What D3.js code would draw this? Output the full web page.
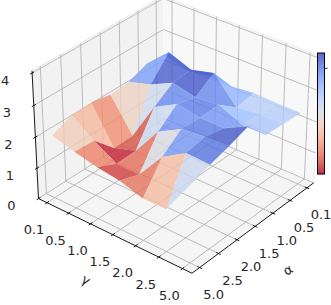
<!DOCTYPE html>
<html>
<head>
<meta charset="utf-8">
<script src="https://d3js.org/d3.v7.min.js"></script>
<style>
  body { margin: 0; background: #fff; }
  svg { display: block; font-family: "DejaVu Sans", sans-serif; }
</style>
</head>
<body>
<svg id="chart" width="331" height="305"></svg>
<script>
// --- DATA ---
const gammaLabels = ["0.1", "0.5", "1.0", "1.5", "2.0", "2.5", "5.0"];
const alphaLabels = ["0.1", "0.5", "1.0", "1.5", "2.0", "2.5", "5.0"];
const zTicks = [0, 1, 2, 3, 4];

// surface height, one array per alpha, values in gamma order
const zAlpha01 = [2.40, 2.20, 2.30, 2.27, 2.35, 2.32, 2.32];
const zAlpha05 = [2.49, 3.14, 2.87, 3.06, 2.26, 2.35, 2.36];
const zAlpha10 = [2.25, 2.46, 2.81, 2.65, 2.72, 2.40, 2.39];
const zAlpha15 = [2.20, 1.17, 2.41, 2.81, 2.69, 2.67, 3.04];
const zAlpha20 = [2.32, 1.16, 1.39, 2.32, 2.72, 2.80, 2.83];
const zAlpha25 = [2.29, 1.79, 1.37, 1.36, 2.24, 2.69, 2.66];
const zAlpha50 = [2.03, 1.83, 1.67, 1.57, 1.35, 1.35, null];
const zRows = [zAlpha01, zAlpha05, zAlpha10, zAlpha15, zAlpha20, zAlpha25, zAlpha50];

const colorExtent = [1.38, 2.88];
const colorBarTick = [2.69];

// --- PROJECTION ---
const elev = 32 * Math.PI / 180;
const azim = 39.2 * Math.PI / 180;
const dist = 8.75;
const zoom = 200;
const cx = 177, cy = 128.5;
const boxH = 0.75;
const edge = 0.4 / 6.8; // gap between the box wall and the first tick

const xScale = d3.scalePoint().domain(d3.range(7)).range([-0.5 + edge, 0.5 - edge]);
const yScale = d3.scalePoint().domain(d3.range(7)).range([-0.5 + edge, 0.5 - edge]);
const zScale = d3.scaleLinear().domain([0, 4.07]).range([-boxH / 2, boxH / 2]);

function depth(x, y, z) {
    const d = x * Math.sin(azim) + y * Math.cos(azim);
    return z * Math.sin(elev) + d * Math.cos(elev);
}

function project(x, y, z) {
    const sx = x * Math.cos(azim) - y * Math.sin(azim);
    const d = x * Math.sin(azim) + y * Math.cos(azim);
    const sy = z * Math.cos(elev) - d * Math.sin(elev);
    const p = dist / (dist - depth(x, y, z));
    return [cx + zoom * sx * p, cy - zoom * sy * p];
}

const svg = d3.select("#chart");
const line3d = d3.line();
const x0 = -0.5, x1 = 0.5, zLo = -boxH / 2, zHi = boxH / 2;

function poly(points, fill) {
    return svg.append("path")
        .attr("d", line3d(points.map(p => project(...p))) + "Z")
        .attr("fill", fill);
}

function seg(a, b, stroke, width) {
    const pa = project(...a), pb = project(...b);
    return svg.append("line")
        .attr("x1", pa[0]).attr("y1", pa[1])
        .attr("x2", pb[0]).attr("y2", pb[1])
        .attr("stroke", stroke).attr("stroke-width", width);
}

// --- PANES ---
poly([[x0, x0, zLo], [x0, x1, zLo], [x0, x1, zHi], [x0, x0, zHi]], "#f2f2f2");
poly([[x0, x0, zLo], [x1, x0, zLo], [x1, x0, zHi], [x0, x0, zHi]], "#f8f8f8");
poly([[x0, x0, zLo], [x1, x0, zLo], [x1, x1, zLo], [x0, x1, zLo]], "#f5f5f5");
seg([x0, x1, zHi], [x0, x0, zHi], "#ebebeb", 1.2);
seg([x0, x0, zHi], [x1, x0, zHi], "#efefef", 1.2);
seg([x1, x0, zHi], [x1, x0, zLo], "#efefef", 1.2);

// --- GRID ---
const gridColor = "#b4b4b4";
d3.range(7).forEach(i => {
    const gx = xScale(i), gy = yScale(i);
    seg([gx, x0, zLo], [gx, x1, zLo], gridColor, 0.9);
    seg([gx, x0, zLo], [gx, x0, zHi], gridColor, 0.9);
    seg([x0, gy, zLo], [x1, gy, zLo], gridColor, 0.9);
    seg([x0, gy, zLo], [x0, gy, zHi], gridColor, 0.9);
});
zTicks.forEach(t => {
    const gz = zScale(t);
    seg([x0, x1, gz], [x0, x0, gz], gridColor, 0.9);
    seg([x0, x0, gz], [x1, x0, gz], gridColor, 0.9);
});

// --- AXES ---
seg([x0, x1, zLo], [x1, x1, zLo], "#000", 0.9);
seg([x1, x1, zLo], [x1, x0, zLo], "#000", 0.9);
seg([x0, x1, zLo], [x0, x1, zHi], "#000", 0.9);

function label(pos, dx, dy, text) {
    const p = project(...pos);
    svg.append("text")
        .attr("x", p[0] + dx).attr("y", p[1] + dy)
        .attr("text-anchor", "middle")
        .attr("dominant-baseline", "central")
        .attr("font-size", 13)
        .attr("fill", "#262626")
        .text(text);
}

const tickLen = 0.014;
gammaLabels.forEach((t, i) => {
    const gx = xScale(i);
    seg([gx, x1 - tickLen, zLo], [gx, x1 + tickLen, zLo], "#000", 0.9);
    label([gx, x1, zLo], -13, 27, t);
});
alphaLabels.forEach((t, i) => {
    const gy = yScale(i);
    seg([x1 - tickLen, gy, zLo], [x1 + tickLen, gy, zLo], "#000", 0.9);
    label([x1, gy, zLo], 14, 27, t);
});
zTicks.forEach(t => {
    const gz = zScale(t);
    seg([x0, x1 - tickLen, gz], [x0, x1 + tickLen, gz], "#000", 0.9);
    label([x0, x1, gz], -27, 7, t);
});

svg.append("text")
    .attr("transform", "translate(86,280) rotate(33)")
    .attr("text-anchor", "middle").attr("dominant-baseline", "central")
    .attr("font-size", 13).attr("fill", "#262626").text("γ");
svg.append("text")
    .attr("transform", "translate(288,270) rotate(-33)")
    .attr("text-anchor", "middle").attr("dominant-baseline", "central")
    .attr("font-size", 13).attr("fill", "#262626").text("α");

// --- SURFACE ---
const coolwarmR = ["#3b4cc0", "#5977e3", "#7b9ff9", "#9ebeff", "#c0d4f5", "#dddcdc",
                   "#f2cbb7", "#f7ac8e", "#ee8468", "#d65244", "#b40426"];
const color = d3.scaleSequential(d3.piecewise(d3.interpolateRgb, coolwarmR.slice().reverse()))
    .domain(colorExtent)
    .clamp(true);

// one polygon per grid cell, coloured by the mean of its corners
const cells = [];
d3.range(6).forEach(a => d3.range(6).forEach(g => {
    const corners = [[g, a], [g + 1, a], [g + 1, a + 1], [g, a + 1]]
        .filter(c => zRows[c[1]][c[0]] !== null);
    const pts = corners.map(c => [xScale(c[0]), yScale(c[1]), zScale(zRows[c[1]][c[0]])]);
    cells.push({
        pts,
        value: d3.mean(corners, c => zRows[c[1]][c[0]]),
        depth: d3.mean(pts, p => depth(...p))
    });
}));

cells.sort((a, b) => a.depth - b.depth).forEach(c => {
    poly(c.pts, color(c.value)).attr("fill-opacity", 0.8);
});

// --- COLOR BAR ---
const barX = 317.5, barW = 7;
const barScale = d3.scaleLinear().domain(colorExtent).range([174, 53]);
const barValues = d3.range(121).map(i => barScale.invert(53.5 + i));
svg.append("g").selectAll("rect")
    .data(barValues)
    .join("rect")
    .attr("x", barX)
    .attr("y", d => barScale(d) - 0.5)
    .attr("width", barW)
    .attr("height", 1.2)
    .attr("fill", d => color(d))
    .attr("fill-opacity", 0.8);
svg.append("rect")
    .attr("x", barX).attr("y", 53).attr("width", barW).attr("height", 121)
    .attr("fill", "none").attr("stroke", "#000").attr("stroke-width", 1);
colorBarTick.forEach(t => {
    svg.append("line")
        .attr("x1", barX + barW).attr("x2", barX + barW + 3)
        .attr("y1", barScale(t)).attr("y2", barScale(t))
        .attr("stroke", "#000").attr("stroke-width", 0.8);
});
</script>
</body>
</html>
